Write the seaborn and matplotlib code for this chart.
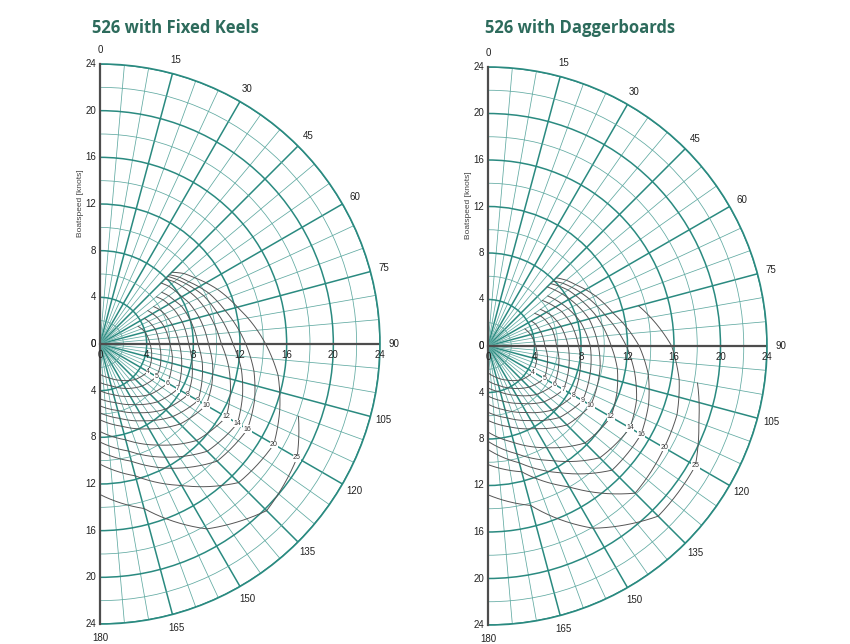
import numpy as np
import pandas as pd
import matplotlib
matplotlib.use("Agg")
import matplotlib.pyplot as plt
import seaborn as sns

# true wind angles [deg], shared by every polar curve
twa = [45, 50, 55, 60, 65, 75, 90, 100, 110, 120, 135, 150, 165, 180]
# true wind speeds [knots], one curve each
tws = [4, 5, 6, 7, 8, 9, 10, 12, 14, 16, 20, 25]
n = np.nan

# boatspeed [knots] per wind speed (rows follow tws, columns follow twa)
keels_speed = [
    [n, n, n, n, 3.6, 4.0, 4.3, 4.5, 4.65, 4.75, 4.3, 3.6, 3.0, 2.6],
    [n, n, n, 4.4, 4.6, 4.9, 5.1, 5.3, 5.5, 5.6, 5.1, 4.4, 3.7, 3.3],
    [n, n, 5.0, 5.2, 5.4, 5.7, 6.0, 6.3, 6.5, 6.7, 6.1, 5.2, 4.5, 4.0],
    [n, n, 5.6, 5.9, 6.1, 6.4, 6.8, 7.1, 7.4, 7.7, 7.0, 6.0, 5.2, 4.7],
    [n, 6.3, 6.6, 6.8, 7.0, 7.3, 7.6, 8.0, 8.4, 8.7, 7.9, 6.8, 5.9, 5.3],
    [n, 6.9, 7.2, 7.4, 7.7, 8.0, 8.4, 8.9, 9.3, 9.7, 8.8, 7.6, 6.6, 5.9],
    [7.4, 7.7, 7.9, 8.1, 8.4, 8.8, 9.3, 9.8, 10.2, 10.5, 9.7, 8.4, 7.3, 6.5],
    [7.9, 8.3, 8.6, 8.9, 9.2, 9.7, 10.4, 11.2, 11.9, 12.5, 11.7, 10.0, 8.5, 7.5],
    [8.2, 8.6, 9.0, 9.4, 9.8, 10.4, 11.4, 12.3, 13.0, 13.6, 13.0, 11.2, 9.5, 8.4],
    [8.4, 8.9, 9.3, 9.8, 10.3, 11.1, 12.5, 13.4, 14.1, 14.6, 14.2, 12.3, 10.4, 9.2],
    [8.7, 9.4, 9.9, 10.5, 11.1, 12.2, 14.2, 15.5, 16.4, 17.2, 16.8, 14.0, 11.7, 10.3],
    [n, n, n, n, n, n, n, n, 18.1, 19.5, 20.2, 18.3, 14.6, 12.9],
]

dagger_speed = [
    [n, n, n, n, 3.5, 3.8, 4.1, 4.3, 4.4, 4.5, 4.1, 3.4, 2.8, 2.3],
    [n, n, n, 4.3, 4.5, 4.7, 4.9, 5.2, 5.4, 5.6, 5.0, 4.2, 3.5, 3.0],
    [n, n, 4.9, 5.2, 5.4, 5.7, 5.9, 6.2, 6.4, 6.6, 5.9, 4.9, 4.1, 3.6],
    [n, n, 5.5, 5.8, 6.1, 6.5, 6.9, 7.1, 7.3, 7.5, 6.8, 5.7, 4.9, 4.3],
    [n, 6.1, 6.4, 6.7, 7.0, 7.4, 7.8, 8.1, 8.3, 8.5, 7.8, 6.6, 5.7, 5.0],
    [n, 6.7, 7.0, 7.3, 7.6, 8.2, 8.8, 9.0, 9.2, 9.4, 8.7, 7.4, 6.4, 5.7],
    [7.2, 7.5, 7.8, 8.1, 8.4, 9.0, 9.5, 9.8, 10.0, 10.2, 9.6, 8.2, 7.2, 6.4],
    [7.6, 8.0, 8.4, 8.7, 9.0, 9.7, 10.6, 11.3, 11.8, 12.2, 11.8, 10.1, 8.6, 7.4],
    [7.9, 8.4, 8.8, 9.2, 9.6, 10.4, 11.9, 12.8, 13.6, 14.1, 13.6, 11.4, 9.6, 8.2],
    [8.3, 8.8, 9.2, 9.7, 10.2, 11.1, 13.0, 14.0, 14.7, 15.2, 15.1, 12.6, 10.4, 8.9],
    [n, n, n, n, n, 13.4, 15.8, 16.7, 17.3, 17.5, 17.9, 14.0, 11.2, 10.2],
    [n, n, n, n, n, n, n, 18.3, 19.3, 20.6, 20.7, 18.1, 14.2, 12.8],
]

r_major = [0, 4, 8, 12, 16, 20, 24]
r_minor = [2, 6, 10, 14, 18, 22]
angle_ticks = list(range(0, 181, 15))
label_angle = 120

TEAL = "#2a8a80"
TEAL_LIGHT = "#5fa9a1"
AXIS_GREY = "#4d4d4d"
CURVE = "#555555"
TITLE = "#2d6b5c"


def to_long(speeds):
    rows = []
    for w, row in zip(tws, speeds):
        for a, s in zip(twa, row):
            rows.append({"tws": w, "theta": np.deg2rad(a), "speed": s})
    return pd.DataFrame(rows).dropna()


def draw_polar(ax, speeds):
    ax.set_theta_zero_location("N")
    ax.set_theta_direction(-1)
    ax.set_thetamin(0)
    ax.set_thetamax(180)
    ax.set_rlim(0, 24)

    # grid
    ax.set_xticks(np.deg2rad(angle_ticks))
    ax.set_xticklabels([str(a) for a in angle_ticks])
    ax.set_xticks(np.deg2rad(range(0, 181, 5)), minor=True)
    ax.set_yticks(r_major)
    ax.set_yticklabels([str(r) for r in r_major])
    ax.set_yticks(r_minor, minor=True)
    ax.grid(which="major", color=TEAL, lw=1.1)
    ax.grid(which="minor", color=TEAL_LIGHT, lw=0.55)
    ax.tick_params(axis="x", which="both", length=0, labelsize=7, colors="#222222", pad=3)
    ax.tick_params(axis="y", which="both", length=0, labelsize=7, colors="#222222",
                   labelleft=True, labelright=True, pad=3)

    ax.spines["polar"].set_color(TEAL)
    ax.spines["polar"].set_linewidth(1.2)
    for side in ["start", "end"]:
        ax.spines[side].set_color(AXIS_GREY)
        ax.spines[side].set_linewidth(1.6)
    ax.spines["inner"].set_visible(False)
    ax.axvline(np.pi / 2, color=AXIS_GREY, lw=1.6)

    # labels along the 90 degree line
    for r in r_major:
        ax.annotate(str(r), xy=(np.pi / 2, r), xytext=(0, -4), textcoords="offset points",
                    ha="center", va="top", fontsize=7, color="#222222")

    df = to_long(speeds)
    n_before = len(ax.lines)
    sns.lineplot(data=df, x="theta", y="speed", units="tws", estimator=None, sort=False,
                 color=CURVE, lw=0.7, ax=ax, legend=False)
    # draw each segment as a polar arc/spiral rather than a straight chord
    for line in ax.lines[n_before:]:
        line.get_path()._interpolation_steps = 40
    ax.set_xlabel("")
    ax.set_ylabel("")

    # wind speed labels where the curves cross the 120 degree line
    col = twa.index(label_angle)
    for w, row in zip(tws, speeds):
        ax.text(np.deg2rad(label_angle), row[col], str(w), fontsize=5, color="#333333",
                ha="center", va="center",
                bbox=dict(fc="white", ec="none", pad=0.2))


sns.set_style("white")
plt.rcParams["font.family"] = ["Liberation Sans", "DejaVu Sans"]

fig = plt.figure(figsize=(8.5, 6.44), dpi=100)

# polar half-discs sit in square boxes; the disc centre is the left edge of the wedge
ax1 = fig.add_axes([-40 / 850, 20 / 644, 560 / 850, 560 / 644], projection="polar")
draw_polar(ax1, keels_speed)
ax2 = fig.add_axes([348.5 / 850, 19 / 644, 558 / 850, 558 / 644], projection="polar")
draw_polar(ax2, dagger_speed)

fig.text(92 / 850, 1 - 28 / 644, "526 with Fixed Keels", fontsize=12, fontweight="bold",
         color=TITLE, family="Open Sans", va="center")
fig.text(485 / 850, 1 - 28 / 644, "526 with Daggerboards", fontsize=12, fontweight="bold",
         color=TITLE, family="Open Sans", va="center")

fig.text(80 / 850, 1 - 203 / 644, "Boatspeed [knots]", rotation=90, fontsize=6,
         color="#444444", ha="center", va="center")
fig.text(469 / 850, 1 - 205 / 644, "Boatspeed [knots]", rotation=90, fontsize=6,
         color="#444444", ha="center", va="center")

fig.savefig("out.png", dpi=100)
